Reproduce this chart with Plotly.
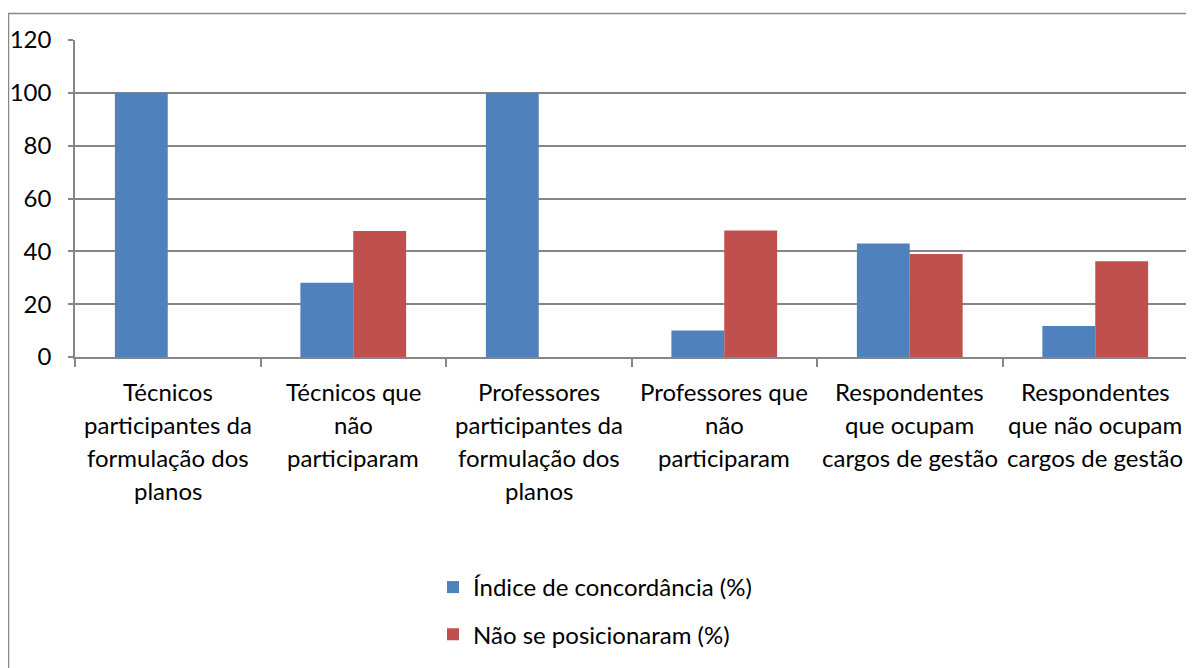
import plotly.graph_objects as go

categories = [
    "Técnicos participantes da formulação dos planos",
    "Técnicos que não participaram",
    "Professores participantes da formulação dos planos",
    "Professores que não participaram",
    "Respondentes que ocupam cargos de gestão",
    "Respondentes que não ocupam cargos de gestão",
]
label_lines = [
    ["Técnicos", "participantes da", "formulação dos", "planos"],
    ["Técnicos que", "não", "participaram"],
    ["Professores", "participantes da", "formulação dos", "planos"],
    ["Professores que", "não", "participaram"],
    ["Respondentes", "que ocupam", "cargos de gestão"],
    ["Respondentes", "que não ocupam", "cargos de gestão"],
]
concordancia = [100, 28.1, 100, 10, 43, 11.7]
nao_posicionaram = [None, 47.7, None, 47.9, 39, 36.2]
series_names = ["Índice de concordância (%)", "Não se posicionaram (%)"]
y_ticks = [0, 20, 40, 60, 80, 100, 120]

FONT = "Lato"
FS = 24
GRID = "#868686"

# page has an 8px body margin; figure coordinates below account for it
ML, MT, PW, PH = 67, 32, 1113, 317

fig = go.Figure()
fig.add_trace(go.Bar(x=categories, y=concordancia, name=series_names[0],
                     marker=dict(color="#4F81BD", line=dict(width=0)),
                     legendgroup="a"))
fig.add_trace(go.Bar(x=categories, y=nao_posicionaram, name=series_names[1],
                     marker=dict(color="#C0504D", line=dict(width=0)),
                     legendgroup="b"))

for cat, lines in zip(categories, label_lines):
    for i, ln in enumerate(lines):
        fig.add_annotation(x=cat, xref="x", y=0, yref="paper", text=ln,
                           showarrow=False, yanchor="middle", xanchor="center",
                           yshift=-34 - 33 * i,
                           font=dict(family=FONT, size=FS, color="#000000"))

fig.add_shape(type="rect", xref="paper", yref="paper",
              x0=(0.5 - ML) / PW, x1=(1260 - ML) / PW,
              y0=(MT + PH - 720) / PH, y1=(MT + PH - 5.5) / PH,
              line=dict(color=GRID, width=1.5), fillcolor="rgba(0,0,0,0)", layer="below")

fig.update_layout(
    width=1194, height=668,
    margin=dict(l=ML, r=1194 - ML - PW, t=MT, b=668 - MT - PH, autoexpand=False),
    paper_bgcolor="white", plot_bgcolor="white",
    barmode="group", bargap=0.43, bargroupgap=0,
    font=dict(family=FONT, size=FS, color="#000000"),
    showlegend=True,
    legend=dict(orientation="v", x=(425 - ML) / PW, xanchor="left", y=-0.656, yanchor="top",
                traceorder="grouped", tracegroupgap=13,
                font=dict(family=FONT, size=FS, color="#000000"),
                bgcolor="rgba(0,0,0,0)", itemwidth=30),
    xaxis=dict(showticklabels=False, ticks="outside", tickson="boundaries",
               ticklen=8, tickcolor=GRID, tickwidth=1.5, automargin=False,
               showline=True, linecolor=GRID, linewidth=1.5,
               showgrid=False, zeroline=False, fixedrange=True),
    yaxis=dict(range=[0, 120], tickvals=y_ticks, ticks="outside", ticklen=5,
               tickcolor=GRID, tickwidth=1.5, showline=True, linecolor=GRID,
               linewidth=1.5, showgrid=True, gridcolor=GRID, gridwidth=1.5,
               zeroline=False, ticklabelstandoff=12, automargin=False,
               tickfont=dict(family=FONT, size=FS, color="#000000")),
)

fig.write_html("out.html")
